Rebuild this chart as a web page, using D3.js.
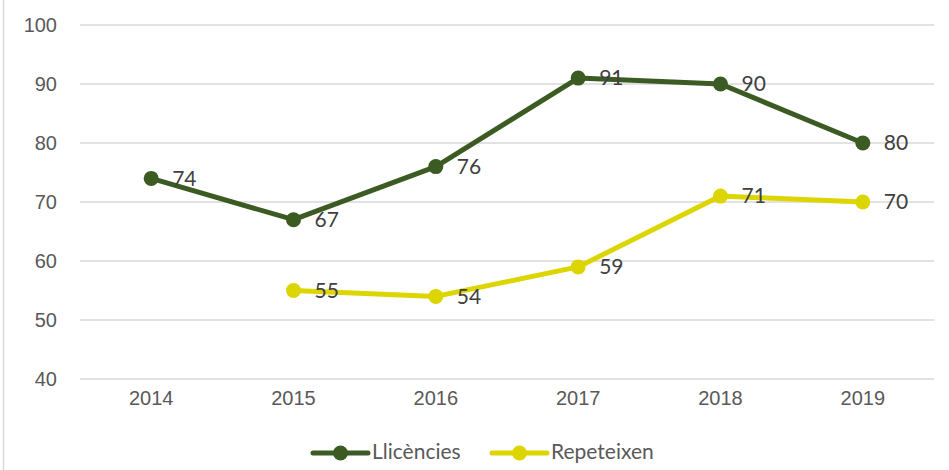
<!DOCTYPE html>
<html>
<head>
<meta charset="utf-8">
<script src="https://cdn.jsdelivr.net/npm/d3@7"></script>
<style>
  body { margin: 0; background: #fff; }
  svg { display: block; font-family: Lato, "Open Sans", sans-serif; }
</style>
</head>
<body>
<div id="chart"></div>
<script>
const years = ["2014", "2015", "2016", "2017", "2018", "2019"];
const llicencies = [74, 67, 76, 91, 90, 80];
const repeteixen = [null, 55, 54, 59, 71, 70];
const yTicks = [40, 50, 60, 70, 80, 90, 100];
const seriesNames = ["Llicències", "Repeteixen"];
const seriesColors = ["#3b5b22", "#dcd500"];

const W = 949, H = 470;
const margin = { top: 25, right: 15, bottom: 91, left: 80 };
const width = W - margin.left - margin.right;
const height = H - margin.top - margin.bottom;

const svg = d3.select("#chart").append("svg")
  .attr("width", W).attr("height", H);

// chart border (only left edge shows)
svg.append("rect")
  .attr("x", 3.5).attr("y", -5).attr("width", W + 10).attr("height", H + 10)
  .attr("fill", "none").attr("stroke", "#d9d9d9").attr("stroke-width", 1.5);

const g = svg.append("g").attr("transform", `translate(${margin.left},${margin.top})`);

const x = d3.scaleBand().domain(years).range([0, width]).padding(0);
const y = d3.scaleLinear().domain([40, 100]).range([height, 0]);

// gridlines
g.selectAll(".grid").data(yTicks).enter().append("line")
  .attr("x1", 0).attr("x2", width)
  .attr("y1", d => y(d)).attr("y2", d => y(d))
  .attr("stroke", "#d9d9d9").attr("stroke-width", 1.5);

// y axis labels
const yAxis = g.append("g").call(d3.axisLeft(y).tickValues(yTicks).tickSize(0).tickPadding(23));
yAxis.select(".domain").remove();
yAxis.selectAll("text").attr("fill", "#595959").style("font-size", "20px");

// x axis labels
const xAxis = g.append("g").attr("transform", `translate(0,${height})`)
  .call(d3.axisBottom(x).tickSize(0).tickPadding(12));
xAxis.select(".domain").remove();
xAxis.selectAll("text").attr("fill", "#595959").style("font-size", "20px");

const series = [llicencies, repeteixen];
series.forEach((vals, i) => {
  const pts = years.map((yr, j) => ({ yr, v: vals[j] })).filter(d => d.v != null);
  const line = d3.line().x(d => x(d.yr) + x.bandwidth() / 2).y(d => y(d.v));
  g.append("path").datum(pts)
    .attr("d", line).attr("fill", "none")
    .attr("stroke", seriesColors[i]).attr("stroke-width", 5)
    .attr("stroke-linejoin", "round").attr("stroke-linecap", "round");
  g.selectAll(".pt" + i).data(pts).enter().append("circle")
    .attr("cx", d => x(d.yr) + x.bandwidth() / 2)
    .attr("cy", d => y(d.v)).attr("r", 7.5)
    .attr("fill", seriesColors[i]);
  g.selectAll(".lb" + i).data(pts).enter().append("text")
    .attr("x", d => x(d.yr) + x.bandwidth() / 2 + 21)
    .attr("y", d => y(d.v) + 2)
    .attr("dominant-baseline", "middle")
    .attr("fill", "#404040").style("font-size", "21px")
    .text(d => d.v);
});

// legend
const legendX = [313, 492];
seriesNames.forEach((name, i) => {
  const lg = svg.append("g").attr("transform", `translate(${legendX[i]},453)`);
  lg.append("line").attr("x1", 0).attr("x2", 55).attr("y1", 0).attr("y2", 0)
    .attr("stroke", seriesColors[i]).attr("stroke-width", 5).attr("stroke-linecap", "round");
  lg.append("circle").attr("cx", 27.5).attr("cy", 0).attr("r", 7.5).attr("fill", seriesColors[i]);
  lg.append("text").attr("x", 59).attr("y", 1).attr("dominant-baseline", "middle")
    .attr("fill", "#595959").style("font-size", "21px").text(name);
});
</script>
</body>
</html>
